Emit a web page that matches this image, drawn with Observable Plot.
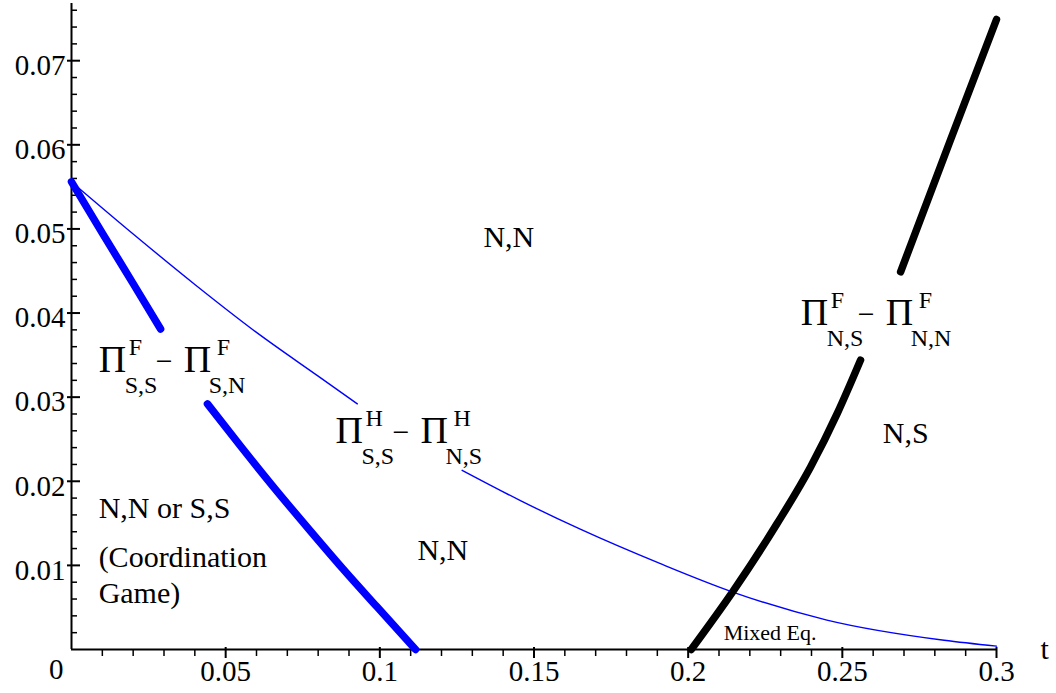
<!DOCTYPE html>
<html><head><meta charset="utf-8">
<script src="https://cdn.jsdelivr.net/npm/d3@7"></script>
<script src="https://cdn.jsdelivr.net/npm/@observablehq/plot@0.6"></script>
<style>html,body{margin:0;padding:0;background:#fff}</style>
</head><body><div id="chart"></div>
<script>
// ---- data (t, value) ----
const thickBlueUpper = [[0,0.0556],[0.01,0.0495],[0.02,0.0435],[0.0289,0.0381]];
const thickBlueLower = [[0.0441,0.0292],[0.055,0.0241],[0.066,0.0191],[0.077,0.0143],[0.088,0.0096],[0.099,0.0051],[0.1116,0]];
const thinBlueUpper = [[0,0.0556],[0.02,0.0494],[0.04,0.0434],[0.06,0.0377],[0.08,0.0325],[0.0927,0.0292]];
const thinBlueLower = [[0.1267,0.0213],[0.1456,0.0177],[0.165,0.0143],[0.191,0.0102],[0.2147,0.0068],[0.245,0.0035],[0.283,0.0011],[0.3,0.0004]];
const blackLower = [[0.201,0],[0.2147,0.0070],[0.2289,0.0150],[0.2397,0.0217],[0.2484,0.0281],[0.2559,0.0344]];
const blackUpper = [[0.2689,0.0449],[0.2851,0.0606],[0.3,0.0749]];

// ---- ticks ----
const xMajor = [0.05,0.1,0.15,0.2,0.25,0.3];
const xMinor = [0.01,0.02,0.03,0.04,0.06,0.07,0.08,0.09,0.11,0.12,0.13,0.14,0.16,0.17,0.18,0.19,0.21,0.22,0.23,0.24,0.26,0.27,0.28,0.29];
const yMajor = [0.01,0.02,0.03,0.04,0.05,0.06,0.07];
const yMinor = [0.002,0.004,0.006,0.008,0.012,0.014,0.016,0.018,0.022,0.024,0.026,0.028,0.032,0.034,0.036,0.038,0.042,0.044,0.046,0.048,0.052,0.054,0.056,0.058,0.062,0.064,0.066,0.068,0.072,0.074,0.076];

// ---- annotations ----
const piLabels = [
  {t:0.0088, v:0.0330, sup1:"F", sub1:"S,S", sup2:"F", sub2:"S,N"},
  {t:0.0856, v:0.0245, sup1:"H", sub1:"S,S", sup2:"H", sub2:"N,S"},
  {t:0.2365, v:0.0386, sup1:"F", sub1:"N,S", sup2:"F", sub2:"N,N"}
];
const regionLabels = [
  {t:0.1336, v:0.0479, text:"N,N"},
  {t:0.1122, v:0.0106, text:"N,N"},
  {t:0.2631, v:0.0246, text:"N,S"},
  {t:0.0088, v:0.0156, text:"N,N or S,S"},
  {t:0.0088, v:0.0098, text:"(Coordination"},
  {t:0.0088, v:0.0055, text:"Game)"}
];
const smallLabels = [{t:0.2115, v:0.0011, text:"Mixed Eq."}];
const axisNameLabels = [{t:0.3143, v:-0.0011, text:"t"}];

const FONT = "'Liberation Serif','Times New Roman',serif";
const blue = "#0000ff";
const xy = {x: d => d[0], y: d => d[1], curve: "monotone-x"};

const piParts = [
  {text: d => "\u03A0", dx: 0,   dy: 0,   size: 38},
  {text: d => d.sup1,   dx: 30,  dy: -17, size: 24},
  {text: d => d.sub1,   dx: 26,  dy: 21,  size: 24},
  {text: d => "\u2212", dx: 57,  dy: -1,  size: 30},
  {text: d => "\u03A0", dx: 85,  dy: 0,   size: 38},
  {text: d => d.sup2,   dx: 118, dy: -17, size: 24},
  {text: d => d.sub2,   dx: 110, dy: 21,  size: 24}
];

const chart = Plot.plot({
  width: 1056, height: 693,
  marginLeft: 71, marginRight: 60, marginTop: 3, marginBottom: 44,
  style: {fontFamily: FONT, background: "#fff", color: "#000", overflow: "visible"},
  x: {domain: [0, 0.3]},
  y: {domain: [0, 0.0768]},
  marks: [
    Plot.ruleX([0], {strokeWidth: 2}),
    Plot.ruleY([0], {strokeWidth: 2}),
    // y ticks (pointing into the plot)
    Plot.axisY(yMajor, {tickSize: -13, dx: -4, fill: "none", label: null, strokeWidth: 2}),
    Plot.axisY(yMinor, {tickSize: -6, dx: 0, fill: "none", label: null, strokeWidth: 1.5}),
    Plot.axisY(yMajor, {tickSize: 0, tickPadding: 6, dy: 5, fontSize: 29, label: null, tickFormat: d => String(d)}),
    Plot.axisY([0], {tickSize: 0, tickPadding: 8, dy: 20, fontSize: 29, label: null, tickFormat: d => String(d)}),
    // x ticks (pointing down)
    Plot.axisX(xMajor, {tickSize: 11, dy: -2, fill: "none", label: null, strokeWidth: 2}),
    Plot.axisX(xMinor, {tickSize: 7, fill: "none", label: null, strokeWidth: 1.5}),
    Plot.axisX(xMajor, {tickSize: 0, tickPadding: 11, fontSize: 29, label: null, tickFormat: d => String(d)}),
    // curves
    Plot.line(thinBlueUpper, {...xy, stroke: blue, strokeWidth: 1.4}),
    Plot.line(thinBlueLower, {...xy, stroke: blue, strokeWidth: 1.4}),
    Plot.line(thickBlueUpper, {...xy, stroke: blue, strokeWidth: 7.5, strokeLinecap: "round"}),
    Plot.line(thickBlueLower, {...xy, stroke: blue, strokeWidth: 7.5, strokeLinecap: "round"}),
    Plot.line(blackLower, {...xy, stroke: "#000", strokeWidth: 7.5, strokeLinecap: "round"}),
    Plot.line(blackUpper, {...xy, stroke: "#000", strokeWidth: 7.5, strokeLinecap: "round"}),
    // Π labels
    ...piParts.map(p => Plot.text(piLabels, {x: "t", y: "v", text: p.text, dx: p.dx, dy: p.dy, fontSize: p.size, textAnchor: "start", lineAnchor: "bottom", fill: "#000"})),
    Plot.text(regionLabels, {x: "t", y: "v", text: "text", fontSize: 30, textAnchor: "start", lineAnchor: "bottom", fill: "#000"}),
    Plot.text(smallLabels, {x: "t", y: "v", text: "text", fontSize: 22, textAnchor: "start", lineAnchor: "bottom", fill: "#000"}),
    Plot.text(axisNameLabels, {x: "t", y: "v", text: "text", fontSize: 30, textAnchor: "start", lineAnchor: "bottom", fill: "#000"})
  ]
});
document.getElementById("chart").appendChild(chart);
</script></body></html>
